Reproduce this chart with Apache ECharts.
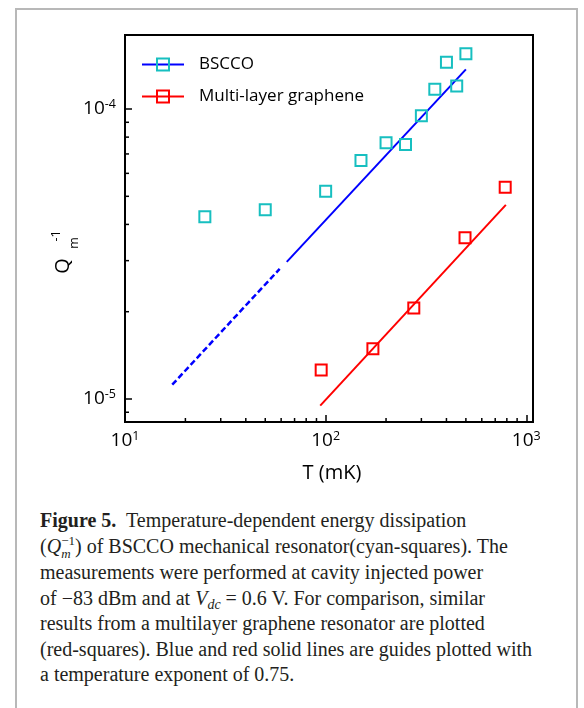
<!DOCTYPE html>
<html>
<head>
<meta charset="utf-8">
<script src="https://cdn.jsdelivr.net/npm/echarts@6/dist/echarts.min.js"></script>
<style>
  html, body { margin: 0; padding: 0; background: #fff; }
  body { width: 584px; height: 708px; position: relative; overflow: hidden; }
  .page-box { position: absolute; left: 15px; top: 8px; width: 563px; height: 760px; border: 2px solid #b8b8b8; box-sizing: border-box; }
  #chart { position: absolute; left: 0; top: 0; width: 584px; height: 500px; }
  .caption { position: absolute; left: 40px; top: 508px; font-family: 'Liberation Serif', serif; font-size: 20px; line-height: 25.5px; color: #231f20; white-space: nowrap; }
  .caption b { font-weight: bold; }
  .caption sub { font-size: 0.7em; line-height: 0; vertical-align: -0.3em; }
  .stack { display: inline-block; vertical-align: -0.4em; font-size: 0.65em; line-height: 0.95em; text-align: left; }
</style>
</head>
<body>
<div class="page-box"></div>
<div id="chart"></div>
<div class="caption">
  <b>Figure 5.</b>&nbsp; Temperature-dependent energy dissipation<br>
  (<i>Q</i><span class="stack">&minus;1<br><i>m</i></span>) of BSCCO mechanical resonator(cyan-squares). The<br>
  measurements were performed at cavity injected power<br>
  of &minus;83 dBm and at <i>V</i><sub><i>dc</i></sub> = 0.6 V. For comparison, similar<br>
  results from a multilayer graphene resonator are plotted<br>
  (red-squares). Blue and red solid lines are guides plotted with<br>
  a temperature exponent of 0.75.
</div>
<script>
// ==================
// DATA
// ==================

// BSCCO measurements: T (mK), Q_m^-1
const bsccoT = [25, 50, 100, 150, 200, 250, 300, 350, 400, 450, 500];
const bsccoQ = [4.25e-5, 4.49e-5, 5.21e-5, 6.64e-5, 7.65e-5, 7.55e-5, 9.48e-5, 1.17e-4, 1.45e-4, 1.2e-4, 1.55e-4];

// Multi-layer graphene measurements
const grapheneT = [95, 172, 275, 495, 785];
const grapheneQ = [1.26e-5, 1.49e-5, 2.06e-5, 3.6e-5, 5.37e-5];

// guide lines (end points)
const bsccoGuideT = [64, 500];
const bsccoGuideQ = [2.97e-5, 1.37e-4];
const bsccoDashT = [17.2, 59];
const bsccoDashQ = [1.12e-5, 2.81e-5];
const grapheneGuideT = [94, 791];
const grapheneGuideQ = [9.49e-6, 4.67e-5];

// axis ranges and minor ticks
const xMin = 10, xMax = 1080;
const yMin = 8.33e-6, yMax = 1.8e-4;
const xMinorTicks = [20, 30, 40, 50, 60, 70, 80, 90, 200, 300, 400, 500, 600, 700, 800, 900];
const yMinorTicks = [9e-6, 2e-5, 3e-5, 4e-5, 5e-5, 6e-5, 7e-5, 8e-5, 9e-5];

// ==================
// CONFIG
// ==================

const CYAN = '#17bfc0';
const BLUE = '#0000ff';
const RED = '#ff0000';
const SANS = "'Open Sans', sans-serif";

const zip = (xs, ys) => xs.map((x, i) => [x, ys[i]]);

function powLabel(v) {
    const e = Math.log10(v);
    const r = Math.round(e);
    if (Math.abs(e - r) > 1e-6) return '';
    return '{b|10}{s|' + r + '}';
}

const labelRich = {
    b: { fontSize: 19, fontFamily: SANS, color: '#000', lineHeight: 22 },
    s: { fontSize: 12.5, fontFamily: SANS, color: '#000', lineHeight: 13, verticalAlign: 'top' }
};

const axisCommon = {
    type: 'log',
    logBase: 10,
    axisLine: { show: true, lineStyle: { color: '#000', width: 2 } },
    axisTick: { show: true, inside: true, length: 7, lineStyle: { color: '#000', width: 1.5 } },
    splitLine: { show: false },
    minorTick: { show: false },
    minorSplitLine: { show: false },
    axisLabel: { formatter: powLabel, rich: labelRich, showMinLabel: true, showMaxLabel: true }
};

function minorTickSeries(points, dir) {
    return {
        type: 'custom',
        silent: true,
        clip: false,
        z: 5,
        data: points,
        encode: { x: 0, y: 1 },
        renderItem: (params, api) => {
            const p = api.coord([api.value(0), api.value(1)]);
            const shape = dir === 'x'
                ? { x1: p[0], y1: p[1], x2: p[0], y2: p[1] - 4 }
                : { x1: p[0], y1: p[1], x2: p[0] + 4, y2: p[1] };
            return { type: 'line', shape, style: { stroke: '#000', lineWidth: 1.5 } };
        }
    };
}

function yNamePart(text, x, y, size) {
    return {
        type: 'text', x, y, rotation: Math.PI / 2,
        style: { text, fontSize: size, fontFamily: SANS, fill: '#000', align: 'center', verticalAlign: 'middle' }
    };
}

// ==================
// ECHARTS INIT
// ==================

const chart = echarts.init(document.getElementById('chart'), null, { renderer: 'canvas' });

const option = {
    animation: false,
    grid: {
        left: 125, top: 35, width: 408, height: 387,
        show: true, borderColor: '#000', borderWidth: 2, backgroundColor: 'transparent'
    },
    xAxis: Object.assign({}, axisCommon, {
        min: xMin, max: xMax,
        axisLabel: Object.assign({}, axisCommon.axisLabel, { margin: 8 }),
        name: 'T (mK)',
        nameLocation: 'middle',
        nameGap: 41,
        nameTextStyle: { fontSize: 20, fontFamily: SANS, color: '#000', padding: [0, 0, 0, 6] }
    }),
    yAxis: Object.assign({}, axisCommon, {
        min: yMin, max: yMax,
        axisLabel: Object.assign({}, axisCommon.axisLabel, { margin: 9 })
    }),
    legend: {
        orient: 'vertical',
        left: 141,
        top: 56,
        padding: 0,
        itemWidth: 42,
        itemHeight: 15,
        itemGap: 15,
        selectedMode: false,
        textStyle: { fontSize: 17, fontFamily: SANS, color: '#000', padding: [0, 0, 0, 10] },
        data: [
            {
                name: 'BSCCO',
                lineStyle: { color: BLUE, width: 2, opacity: 1, type: 'solid' },
                itemStyle: { color: 'rgba(0,0,0,0)', borderColor: CYAN, borderWidth: 2, opacity: 1 }
            },
            {
                name: 'Multi-layer graphene',
                lineStyle: { color: RED, width: 2, opacity: 1, type: 'solid' },
                itemStyle: { color: 'rgba(0,0,0,0)', borderColor: RED, borderWidth: 2, opacity: 1 }
            }
        ]
    },
    graphic: [
        yNamePart('Q', 63, 266, 20),
        yNamePart('m', 74, 243, 12.5),
        yNamePart('-1', 56, 236, 12.5)
    ],
    series: [
        {
            name: 'BSCCO guide',
            type: 'line',
            silent: true,
            data: zip(bsccoGuideT, bsccoGuideQ),
            symbol: 'none',
            lineStyle: { color: BLUE, width: 2 }
        },
        {
            name: 'BSCCO guide (extrapolated)',
            type: 'line',
            silent: true,
            data: zip(bsccoDashT, bsccoDashQ),
            symbol: 'none',
            lineStyle: { color: BLUE, width: 2.5, type: [6, 3] }
        },
        {
            name: 'Graphene guide',
            type: 'line',
            silent: true,
            data: zip(grapheneGuideT, grapheneGuideQ),
            symbol: 'none',
            lineStyle: { color: RED, width: 2 }
        },
        {
            name: 'BSCCO',
            type: 'line',
            silent: true,
            data: zip(bsccoT, bsccoQ),
            symbol: 'rect',
            symbolSize: 11,
            showAllSymbol: true,
            lineStyle: { color: BLUE, opacity: 0 },
            itemStyle: { color: 'rgba(0,0,0,0)', borderColor: CYAN, borderWidth: 2 },
            z: 3
        },
        {
            name: 'Multi-layer graphene',
            type: 'line',
            silent: true,
            data: zip(grapheneT, grapheneQ),
            symbol: 'rect',
            symbolSize: 11,
            showAllSymbol: true,
            lineStyle: { color: RED, opacity: 0 },
            itemStyle: { color: 'rgba(0,0,0,0)', borderColor: RED, borderWidth: 2 },
            z: 3
        },
        minorTickSeries(xMinorTicks.map(v => [v, yMin]), 'x'),
        minorTickSeries(yMinorTicks.map(v => [xMin, v]), 'y')
    ]
};

chart.setOption(option);
</script>
</body>
</html>
